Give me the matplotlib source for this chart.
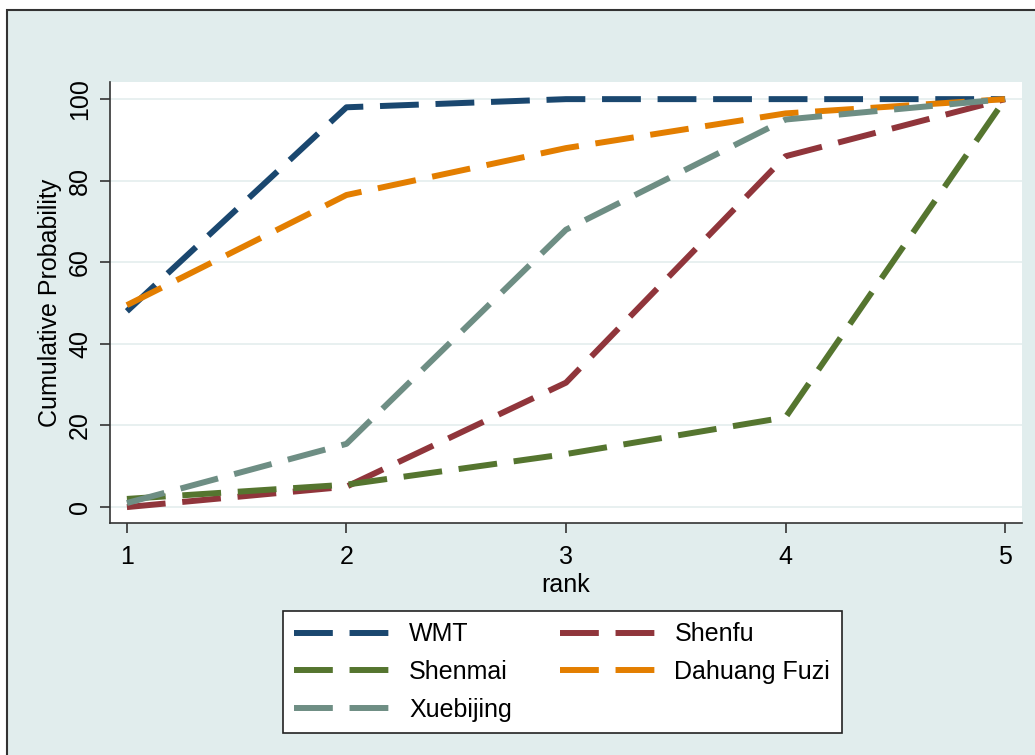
import matplotlib
matplotlib.use("Agg")
import matplotlib.pyplot as plt
from matplotlib.patches import Rectangle

plt.rcParams['font.family'] = ['Liberation Sans', 'DejaVu Sans']

# cumulative ranking probabilities (%)
rank = [1, 2, 3, 4, 5]
wmt = [48, 98, 100, 100, 100]
shenfu = [0, 5, 30.5, 86, 100]
shenmai = [2, 5.5, 13, 22, 100]
dahuang = [49.5, 76.5, 88, 96.5, 100]
xuebijing = [1, 15.5, 68, 95, 100]

names = ["WMT", "Shenfu", "Shenmai", "Dahuang Fuzi", "Xuebijing"]
series = [wmt, shenfu, shenmai, dahuang, xuebijing]
colors = ["#1a476f", "#90353b", "#55752f", "#e37e00", "#6e8e84"]

fig = plt.figure(figsize=(10.35, 7.55), dpi=100)
fig.patch.set_facecolor("white")
# stata-like graph region
fig.patches.append(Rectangle((7 / 1035, -0.1), 1.2, 1 - 10 / 755 + 0.1,
                             transform=fig.transFigure, facecolor="#e1eded",
                             edgecolor="#333333", linewidth=1.5, zorder=-10))

ax = fig.add_axes([110 / 1035, 1 - 523 / 755, 912 / 1035, 441 / 755])
ax.set_facecolor("white")

lines = {}
for name, y, c in zip(names, series, colors):
    ln, = ax.plot(rank, y, color=c, lw=4.3, linestyle=(0, (6.5, 2.8)),
                  solid_joinstyle="miter", dash_capstyle="butt", label=name)
    lines[name] = ln

ax.set_xlim(0.923, 5.077)
ax.set_ylim(-3.9, 104.2)
ax.set_xticks(rank)
ax.set_yticks([0, 20, 40, 60, 80, 100])
ax.grid(axis="y", color="#e4eeee", lw=1.2)
ax.set_axisbelow(True)
for s in ["top", "right"]:
    ax.spines[s].set_visible(False)
for s in ["left", "bottom"]:
    ax.spines[s].set_color("#333333")
    ax.spines[s].set_linewidth(1.2)
ax.tick_params(axis="both", length=7, width=1.2, color="#333333",
               labelsize=18, pad=6)
ax.tick_params(axis="x", pad=9)
plt.setp(ax.get_yticklabels(), rotation=90, va="center")
ax.set_xlabel("rank", fontsize=18, labelpad=3)
ax.set_ylabel("Cumulative Probability", fontsize=18, labelpad=4)

order = ["WMT", "Shenmai", "Xuebijing", "Shenfu", "Dahuang Fuzi"]
leg = fig.legend([lines[n] for n in order], order, ncol=2,
                 loc="upper left", bbox_to_anchor=(283 / 1035, 1 - 611 / 755),
                 fontsize=18, frameon=True, fancybox=False, framealpha=1,
                 handlelength=4.0, handletextpad=0.6, columnspacing=1.9,
                 labelspacing=0.55, borderpad=0.45, borderaxespad=0)
leg.get_frame().set_edgecolor("#222222")
leg.get_frame().set_linewidth(1.2)

fig.savefig("out.png", dpi=100)
